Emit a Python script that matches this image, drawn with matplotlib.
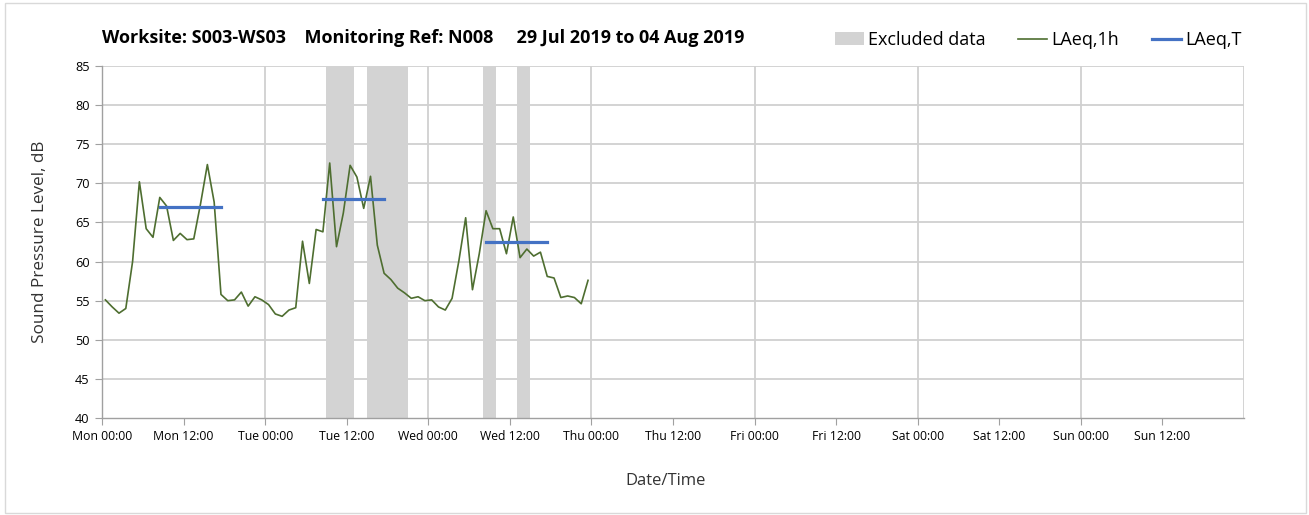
import matplotlib.pyplot as plt
import numpy as np
from matplotlib.lines import Line2D
from matplotlib.patches import Patch, Rectangle

plt.rcParams["font.family"] = ["Open Sans", "DejaVu Sans"]

TITLE = "Worksite: S003-WS03    Monitoring Ref: N008     29 Jul 2019 to 04 Aug 2019"

# hourly LAeq,1h values from Mon 00:00, one per hour
LAEQ_1H = [
    55.1, 54.2, 53.4, 54.0, 60.0, 70.2, 64.2, 63.1, 68.2, 67.1,
    62.7, 63.6, 62.8, 62.9, 67.4, 72.4, 67.6, 55.8, 55.0, 55.1,
    56.1, 54.3, 55.5, 55.1, 54.5, 53.3, 53.0, 53.8, 54.1, 62.6,
    57.2, 64.1, 63.8, 72.6, 61.9, 66.2, 72.3, 70.8, 66.8, 70.9,
    62.1, 58.5, 57.7, 56.6, 56.0, 55.3, 55.5, 55.0, 55.1, 54.2,
    53.8, 55.3, 60.1, 65.6, 56.4, 61.0, 66.5, 64.2, 64.2, 61.0,
    65.7, 60.5, 61.6, 60.7, 61.2, 58.1, 57.9, 55.4, 55.6, 55.4,
    54.6, 57.6,
]

# LAeq,T periods (hours from Mon 00:00)
PERIOD_START = [8, 32, 56]
PERIOD_END = [18, 42, 66]
LAEQ_T = [67.0, 68.0, 62.5]

# excluded data windows (hours from Mon 00:00)
EXCL_START = [33, 39, 56, 61]
EXCL_END = [37, 45, 58, 63]

TICK_LABELS = [
    "Mon 00:00", "Mon 12:00", "Tue 00:00", "Tue 12:00", "Wed 00:00",
    "Wed 12:00", "Thu 00:00", "Thu 12:00", "Fri 00:00", "Fri 12:00",
    "Sat 00:00", "Sat 12:00", "Sun 00:00", "Sun 12:00",
]

GREEN = "#4e6e30"
BLUE = "#4472c4"
SHADE = "#d3d3d3"
GRID = "#d0d0d0"

W, H = 1309, 515
fig = plt.figure(figsize=(W / 100, H / 100), dpi=100)
ax = fig.add_axes([102 / W, 1 - 418 / H, (1244 - 102) / W, (418 - 66) / H])

fig.patches.append(
    Rectangle((5 / W, 2 / H), 1301 / W, 510 / H, transform=fig.transFigure,
              fill=False, edgecolor="#d9d9d9", linewidth=1.0)
)

for s, e in zip(EXCL_START, EXCL_END):
    ax.axvspan(s, e, color=SHADE, linewidth=0, zorder=1)

hours = np.arange(len(LAEQ_1H)) + 0.5
ax.plot(hours, LAEQ_1H, color=GREEN, linewidth=1.2, zorder=3)

for s, e, v in zip(PERIOD_START, PERIOD_END, LAEQ_T):
    ax.plot([s + 0.5, e - 0.5], [v, v], color=BLUE, linewidth=2.3,
            solid_capstyle="projecting", zorder=4)

ax.set_xlim(0, 168)
ax.set_ylim(40, 85)
ax.set_yticks(np.arange(40, 86, 5))
ax.set_xticks(np.arange(0, 168, 12))
ax.set_xticklabels(TICK_LABELS, fontsize=8.8)
ax.tick_params(axis="y", labelsize=9.2, length=5, color="#a0a0a0", pad=4)
ax.tick_params(axis="x", length=5, color="#a0a0a0", pad=4)

for y in np.arange(45, 86, 5):
    ax.axhline(y, color=GRID, linewidth=1.3, zorder=0)
for x in np.arange(24, 169, 24):
    ax.axvline(x, color=GRID, linewidth=1.3, zorder=0)

for side in ["top", "right"]:
    ax.spines[side].set_visible(False)
for side in ["left", "bottom"]:
    ax.spines[side].set_color("#a0a0a0")
    ax.spines[side].set_linewidth(1.0)

ax.set_ylabel("Sound Pressure Level, dB", fontsize=12.3, color="#333333")
ax.yaxis.set_label_coords(-54 / (1244 - 102), 0.5)
ax.set_xlabel("Date/Time", fontsize=12, color="#333333")
ax.xaxis.set_label_coords(564 / (1244 - 102), -55 / (418 - 66))

fig.text(102 / W, 1 - 38 / H, TITLE, fontsize=13, fontweight="bold",
         va="center", ha="left")

handles = [
    Patch(facecolor=SHADE, edgecolor="none"),
    Line2D([], [], color=GREEN, linewidth=1.2),
    Line2D([], [], color=BLUE, linewidth=2.3),
]
fig.legend(handles, ["Excluded data", "LAeq,1h", "LAeq,T"], ncol=3,
           loc="center right", bbox_to_anchor=(1258 / W, 1 - 40 / H),
           frameon=False, fontsize=13, handlelength=1.6, handletextpad=0.25,
           columnspacing=1.8)

fig.savefig("out.png", dpi=100)
